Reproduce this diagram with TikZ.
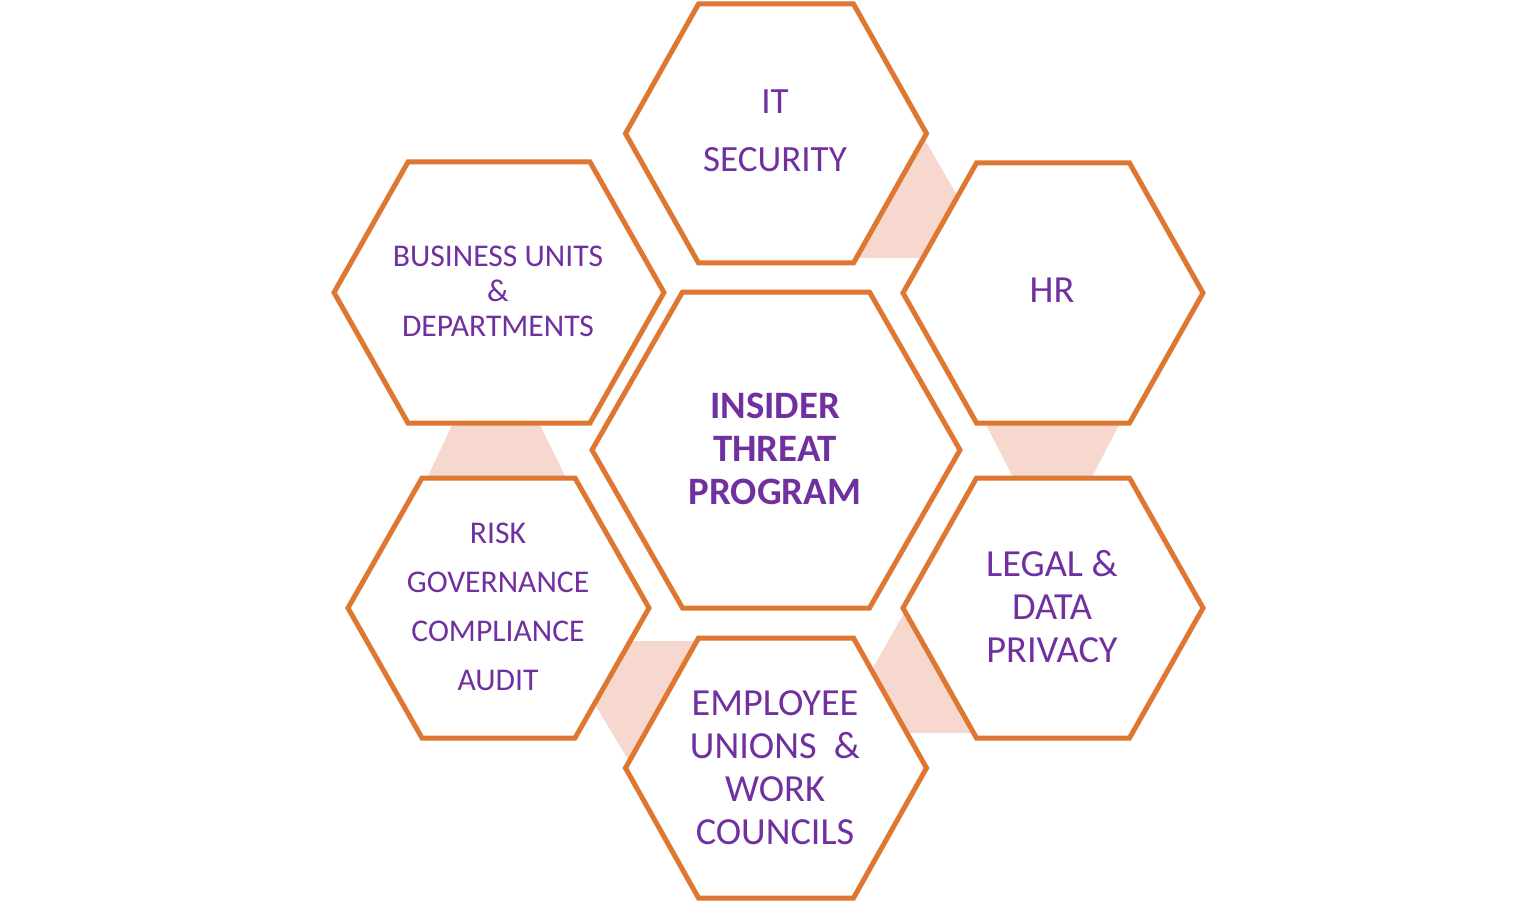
\documentclass[tikz,border=0pt]{standalone}
\usepackage{fontspec}
\setmainfont{Carlito}
\definecolor{hexorange}{HTML}{DD7731}
\definecolor{hexpurple}{HTML}{7030A0}
\definecolor{hexpink}{HTML}{F7D8CE}
\newcommand\hexcell[6]{% name, cx, cy, half width, half top width, half height
  \coordinate (#1) at (#2,#3);
  \draw[hexline] ({#2-#4},#3) -- ({#2-#5},{#3-#6}) -- ({#2+#5},{#3-#6}) --
    ({#2+#4},#3) -- ({#2+#5},{#3+#6}) -- ({#2-#5},{#3+#6}) -- cycle;}
\tikzset{
  hexline/.style={draw=hexorange, line width=5pt, fill=white, line join=miter},
  pinkpatch/.style={fill=hexpink, draw=none},
  lbl/.style={text=hexpurple, align=center, inner sep=0pt, anchor=center},
  bigfont/.style={font=\fontsize{38.3}{43}\selectfont},
  smallfont/.style={font=\fontsize{31.6}{35}\selectfont}
}
\begin{document}
\begin{tikzpicture}[x=1pt, y=-1pt]
\useasboundingbox[fill=white] (0,0) rectangle (1536,901);
% pink connecting patches
\fill[pinkpatch] (921,133) -- (962,204) -- (930,258) -- (855,258) -- cycle;
\fill[pinkpatch] (984,421) -- (1121,421) -- (1092,477) -- (1013,477) -- cycle;
\fill[pinkpatch] (907,608) -- (866,680) -- (900,733) -- (975,733) -- cycle;
\fill[pinkpatch] (620,641) -- (700,641) -- (633,768) -- (590,696) -- cycle;
\fill[pinkpatch] (454,421) -- (538,421) -- (566,478) -- (427,478) -- cycle;
% hexagons
\hexcell{itsec}{776}{133.5}{150.5}{77.5}{129.5}
\hexcell{hr}{1053}{293}{150}{76.5}{130}
\hexcell{legal}{1053}{608}{150}{76.5}{130}
\hexcell{empl}{776}{768}{150.5}{77.5}{130}
\hexcell{risk}{498.5}{608}{150.5}{76.5}{130}
\hexcell{biz}{499}{292.5}{165}{91}{130.5}
\hexcell{core}{776}{450}{184}{93.5}{158}
% labels
\node[lbl, font=\fontsize{37}{58}\selectfont] (itlbl) at (775,130.5) {IT\\SECURITY};
\node[lbl, bigfont] (hrlbl) at (1052,290.5) {HR};
\node[lbl, smallfont] (bizlbl) at (498,291) {BUSINESS UNITS\\\&\\DEPARTMENTS};
\node[lbl, font=\fontsize{38.8}{43}\selectfont\bfseries] (corelbl) at (775,448.5) {INSIDER\\THREAT\\PROGRAM};
\node[lbl, bigfont] (legallbl) at (1052,606.5) {LEGAL \&\\DATA\\PRIVACY};
\node[lbl, font=\fontsize{31.6}{49}\selectfont] (risklbl) at (498,607) {RISK\\GOVERNANCE\\COMPLIANCE\\AUDIT};
\node[lbl, bigfont] (empllbl) at (775,767.5) {EMPLOYEE\\UNIONS\ \ \&\\WORK\\COUNCILS};
\end{tikzpicture}
\end{document}
